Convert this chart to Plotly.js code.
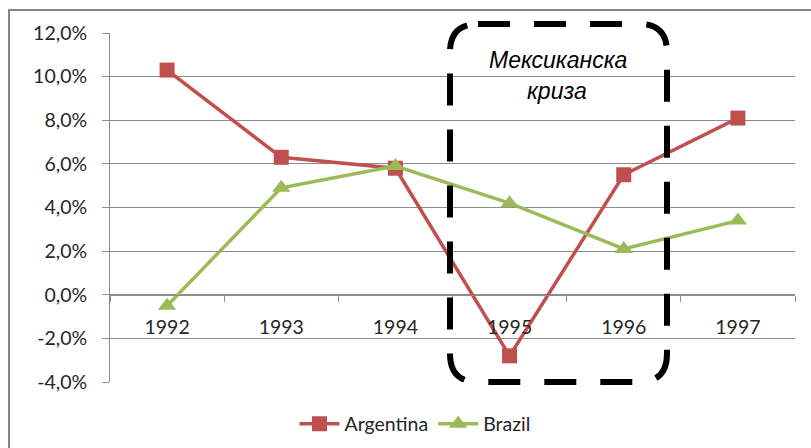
<!DOCTYPE html>
<html>
<head>
<meta charset="utf-8">
<script src="https://cdn.plot.ly/plotly-3.0.1.min.js"></script>
<style>
  html, body { margin: 0; padding: 0; background: #ffffff; }
  #chart { width: 811px; height: 448px; }
</style>
</head>
<body>
<div id="chart"></div>
<script>
// Annual GDP growth, % (Argentina vs Brazil)
const years = ['1992', '1993', '1994', '1995', '1996', '1997'];
const argentina = [10.3, 6.3, 5.8, -2.8, 5.5, 8.1];
const brazil = [-0.5, 4.9, 5.9, 4.2, 2.1, 3.4];
const yTicks = [-4, -2, 0, 2, 4, 6, 8, 10, 12];
const yTickText = yTicks.map(v => v.toFixed(1).replace('.', ',') + '%');

const W = 811, H = 448;
const M = { l: 110, r: 16, t: 33, b: 66, autoexpand: false };
const plotW = W - M.l - M.r, plotH = H - M.t - M.b;
// pixel -> paper helpers for decorations
const px = x => (x - M.l) / plotW;
const py = y => (H - M.b - y) / plotH;

const gridColor = '#8c8c8c';
const baseFont = 'Lato, "Open Sans", sans-serif';
const tickFont = { family: baseFont, size: 19.5, color: '#262626' };

const traces = [
  {
    x: years, y: argentina, name: 'Argentina', type: 'scatter', mode: 'lines+markers',
    line: { color: '#C0504D', width: 3.5 },
    marker: { symbol: 'square', size: 15, color: '#C0504D' }
  },
  {
    x: years, y: brazil, name: 'Brazil', type: 'scatter', mode: 'lines+markers',
    line: { color: '#9BBB59', width: 3.5 },
    marker: { symbol: 'triangle-up', size: 16, color: '#9BBB59' }
  }
];

// rounded dashed frame around the crisis years
const bx0 = 450, bx1 = 667, by0 = 24, by1 = 382, r = 28;
const boxPath =
  `M ${px(bx0 + r)},${py(by0)} L ${px(bx1 - r)},${py(by0)} ` +
  `Q ${px(bx1)},${py(by0)} ${px(bx1)},${py(by0 + r)} ` +
  `L ${px(bx1)},${py(by1 - r)} ` +
  `Q ${px(bx1)},${py(by1)} ${px(bx1 - r)},${py(by1)} ` +
  `L ${px(bx0 + r)},${py(by1)} ` +
  `Q ${px(bx0)},${py(by1)} ${px(bx0)},${py(by1 - r)} ` +
  `L ${px(bx0)},${py(by0 + r)} ` +
  `Q ${px(bx0)},${py(by0)} ${px(bx0 + r)},${py(by0)} Z`;

const layout = {
  width: W, height: H,
  margin: M,
  paper_bgcolor: '#ffffff',
  plot_bgcolor: '#ffffff',
  showlegend: true,
  legend: {
    orientation: 'h', x: px(415), xanchor: 'center', y: py(424), yanchor: 'middle',
    font: { family: baseFont, size: 19.5, color: '#262626' },
    itemwidth: 40, tracegroupgap: 0, bgcolor: 'rgba(0,0,0,0)'
  },
  xaxis: {
    type: 'category',
    anchor: 'free', position: 4 / 16,
    showline: true, linecolor: gridColor, linewidth: 1,
    showgrid: false, zeroline: false,
    ticks: 'outside', ticklen: 6, tickcolor: gridColor, tickson: 'boundaries',
    ticklabelstandoff: 15,
    tickfont: tickFont,
    range: [-0.5, 5.5]
  },
  yaxis: {
    range: [-4, 12],
    tickmode: 'array', tickvals: yTicks, ticktext: yTickText,
    showgrid: true, gridcolor: gridColor, gridwidth: 1,
    zeroline: false,
    showline: true, linecolor: gridColor, linewidth: 1,
    ticks: 'outside', ticklen: 7, tickcolor: gridColor,
    ticklabelstandoff: 11,
    tickfont: tickFont
  },
  shapes: [
    // outer chart frame
    {
      type: 'rect', xref: 'paper', yref: 'paper',
      x0: px(9), x1: px(830), y0: py(470), y1: py(10),
      line: { color: '#868686', width: 2 }, layer: 'below'
    },
    {
      type: 'path', xref: 'paper', yref: 'paper', path: boxPath,
      line: { color: '#000000', width: 6, dash: '32px,24px' },
      layer: 'above'
    }
  ],
  annotations: [
    {
      xref: 'paper', yref: 'paper', x: px(558), y: py(60),
      text: '<i>Мексиканска</i>', showarrow: false,
      xanchor: 'center', yanchor: 'middle',
      font: { family: '"Liberation Sans", Arial, sans-serif', size: 23, color: '#000000' }
    },
    {
      xref: 'paper', yref: 'paper', x: px(557), y: py(91),
      text: '<i>криза</i>', showarrow: false,
      xanchor: 'center', yanchor: 'middle',
      font: { family: '"Liberation Sans", Arial, sans-serif', size: 23, color: '#000000' }
    }
  ]
};

Plotly.newPlot('chart', traces, layout, { displayModeBar: false, staticPlot: true });
</script>
</body>
</html>
